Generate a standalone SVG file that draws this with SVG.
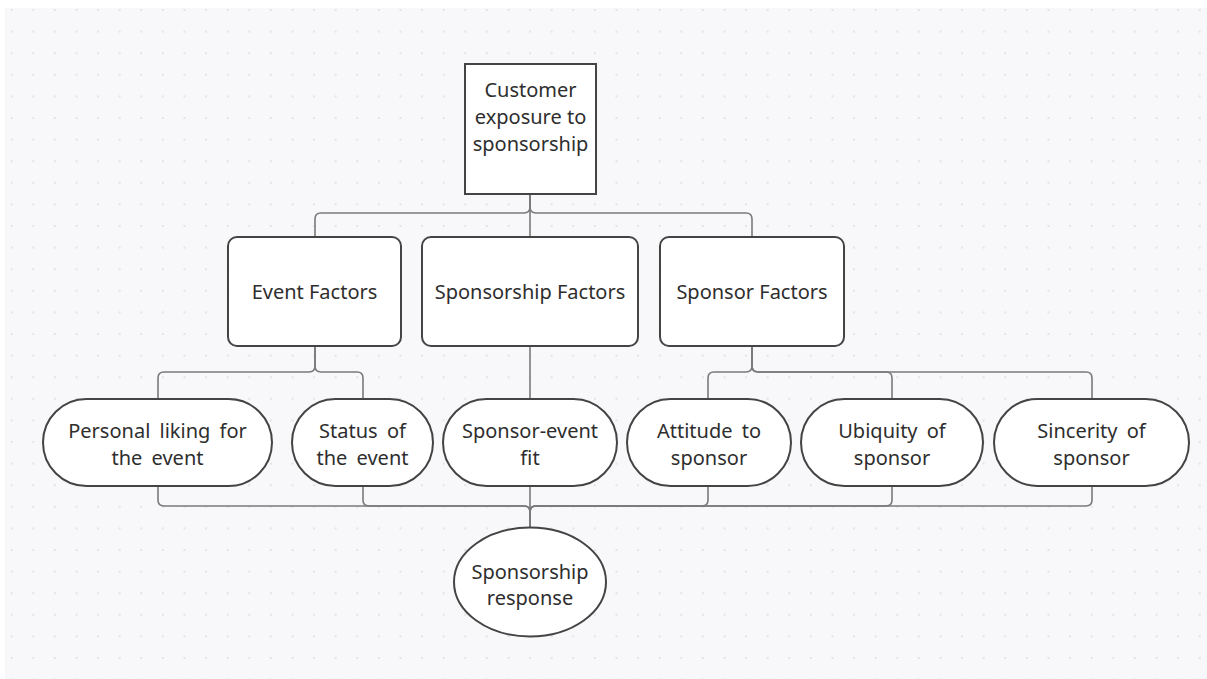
<svg xmlns="http://www.w3.org/2000/svg" width="1207" height="679" viewBox="0 0 1207 679">
  <defs>
    <pattern id="dots" x="0.9" y="-0.8" width="21.6" height="21.6" patternUnits="userSpaceOnUse">
      <circle cx="10.8" cy="10.8" r="1" fill="#dcdce0"/>
    </pattern>
    <style>
      .box { fill: #ffffff; stroke: #444444; stroke-width: 2; }
      .wire { fill: none; stroke: #7a7a7a; stroke-width: 1.6; }
      .lbl { font-family: "Noto Sans", "Open Sans", sans-serif; font-size: 20px; fill: #2e2e2e; text-anchor: middle; }
      .wide { word-spacing: 4px; }
    </style>
  </defs>

  <!-- canvas -->
  <rect x="0" y="0" width="1207" height="679" fill="#ffffff"/>
  <rect x="5" y="8" width="1202" height="671" fill="#f8f8fa"/>
  <rect x="5" y="8" width="1202" height="671" fill="url(#dots)"/>

  <!-- connectors -->
  <g id="connectors" class="wire">
    <path d="M530,194 V207 Q530,213 524,213 H321 Q315,213 315,219 V237"/>
    <path d="M530,194 V237"/>
    <path d="M530,194 V207 Q530,213 536,213 H746 Q752,213 752,219 V237"/>

    <path d="M315,346 V366 Q315,372 309,372 H164 Q158,372 158,378 V399"/>
    <path d="M315,346 V366 Q315,372 321,372 H357 Q363,372 363,378 V399"/>
    <path d="M530,346 V399"/>
    <path d="M752,346 V366 Q752,372 746,372 H714 Q708,372 708,378 V399"/>
    <path d="M752,346 V366 Q752,372 758,372 H886 Q892,372 892,378 V399"/>
    <path d="M752,346 V366 Q752,372 758,372 H1086 Q1092,372 1092,378 V399"/>

    <path d="M158,486 V500 Q158,506 164,506 H524 Q530,506 530,512 V528"/>
    <path d="M363,486 V500 Q363,506 369,506 H524 Q530,506 530,512 V528"/>
    <path d="M530,486 V528"/>
    <path d="M708,486 V500 Q708,506 702,506 H536 Q530,506 530,512 V528"/>
    <path d="M892,486 V500 Q892,506 886,506 H536 Q530,506 530,512 V528"/>
    <path d="M1092,486 V500 Q1092,506 1086,506 H536 Q530,506 530,512 V528"/>
  </g>

  <!-- top node -->
  <g id="exposure">
    <rect class="box" x="465" y="64" width="131" height="130"/>
    <text class="lbl" x="530.5" y="97">Customer</text>
    <text class="lbl" x="530.5" y="124">exposure to</text>
    <text class="lbl" x="530.5" y="151">sponsorship</text>
  </g>

  <!-- factor groups -->
  <g id="event-factors">
    <rect class="box" x="228" y="237" width="173" height="109" rx="9"/>
    <text class="lbl" x="314.5" y="299">Event Factors</text>
  </g>
  <g id="sponsorship-factors">
    <rect class="box" x="422" y="237" width="216" height="109" rx="9"/>
    <text class="lbl" x="530" y="299">Sponsorship Factors</text>
  </g>
  <g id="sponsor-factors">
    <rect class="box" x="660" y="237" width="184" height="109" rx="9"/>
    <text class="lbl" x="752" y="299">Sponsor Factors</text>
  </g>

  <!-- individual factors -->
  <g id="personal-liking">
    <rect class="box" x="43" y="399" width="229" height="87" rx="43.5"/>
    <text class="lbl wide" x="157.5" y="438">Personal liking for</text>
    <text class="lbl wide" x="157.5" y="465">the event</text>
  </g>
  <g id="event-status">
    <rect class="box" x="292" y="399" width="141" height="87" rx="43.5"/>
    <text class="lbl wide" x="362.5" y="438">Status of</text>
    <text class="lbl wide" x="362.5" y="465">the event</text>
  </g>
  <g id="sponsor-event-fit">
    <rect class="box" x="443" y="399" width="174" height="87" rx="43.5"/>
    <text class="lbl" x="530" y="438">Sponsor-event</text>
    <text class="lbl" x="530" y="465">fit</text>
  </g>
  <g id="attitude">
    <rect class="box" x="627" y="399" width="164" height="87" rx="43.5"/>
    <text class="lbl wide" x="709" y="438">Attitude to</text>
    <text class="lbl" x="709" y="465">sponsor</text>
  </g>
  <g id="ubiquity">
    <rect class="box" x="801" y="399" width="182" height="87" rx="43.5"/>
    <text class="lbl wide" x="892" y="438">Ubiquity of</text>
    <text class="lbl" x="892" y="465">sponsor</text>
  </g>
  <g id="sincerity">
    <rect class="box" x="994" y="399" width="195" height="87" rx="43.5"/>
    <text class="lbl wide" x="1091.5" y="438">Sincerity of</text>
    <text class="lbl" x="1091.5" y="465">sponsor</text>
  </g>

  <!-- outcome -->
  <g id="response">
    <ellipse class="box" cx="530" cy="582" rx="76" ry="54.5"/>
    <text class="lbl" x="530" y="579">Sponsorship</text>
    <text class="lbl" x="530" y="605">response</text>
  </g>
</svg>
